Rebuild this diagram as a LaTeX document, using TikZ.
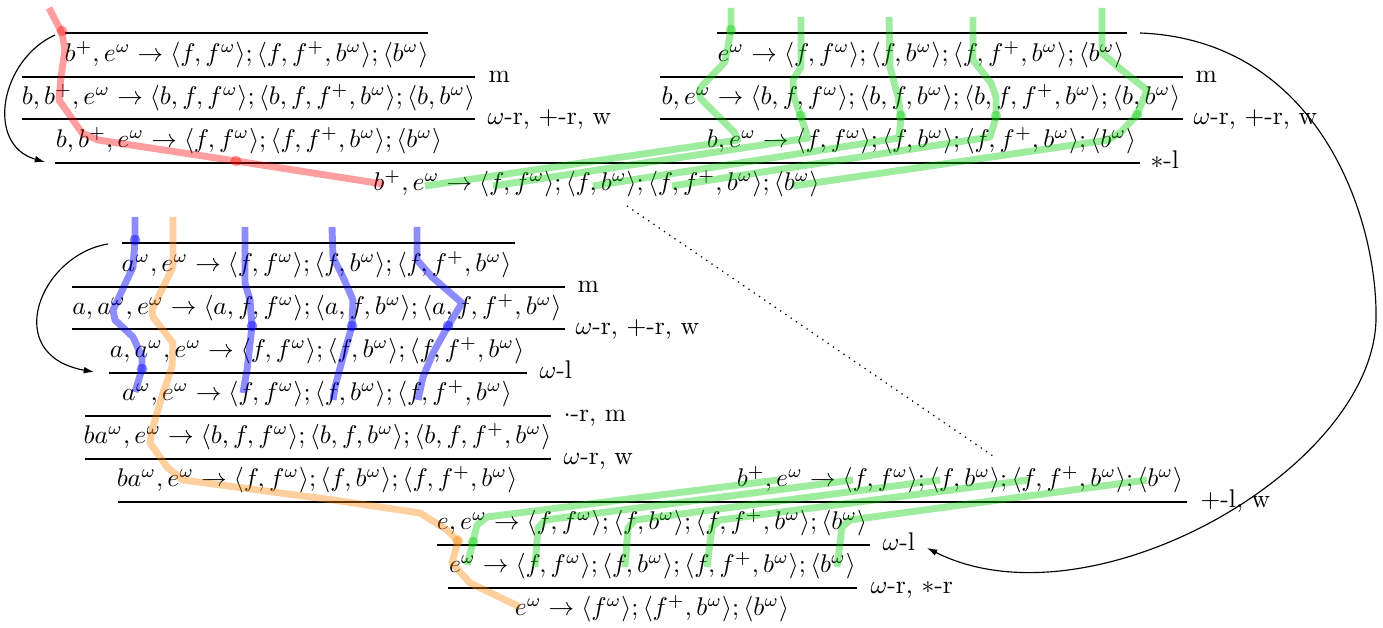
\documentclass[tikz,border=0pt]{standalone}
\usetikzlibrary{arrows.meta}
\begin{document}
\begin{tikzpicture}[x=0.391pt,y=-0.391pt,
  fml/.style={anchor=base, inner sep=0pt},
  lab/.style={anchor=base west, inner sep=0pt},
  rulel/.style={line width=0.5pt},
  thr/.style={line width=2.7pt, line join=round, opacity=0.38},
  dotr/.style={opacity=0.38},
  backarrow/.style={line width=0.45pt, -{Latex[length=4pt,width=2.6pt]}},
  redt/.style={thr, draw=red},
  grnt/.style={thr, draw=green!80!black},
  blut/.style={thr, draw=blue, opacity=0.45},
  orgt/.style={thr, draw=orange}]
\useasboundingbox (0,0) rectangle (1383,628);

% ---------- top-left block ----------
\node[fml] (t1) at (246.5,62) {$b^+, e^\omega \to \langle f, f^\omega\rangle; \langle f, f^+, b^\omega\rangle; \langle b^\omega\rangle$};
\node[fml] (t2) at (248.5,105) {$b, b^+, e^\omega \to \langle b, f, f^\omega\rangle; \langle b, f, f^+, b^\omega\rangle; \langle b, b^\omega\rangle$};
\node[fml] (t3) at (249,148) {$b, b^+, e^\omega \to \langle f, f^\omega\rangle; \langle f, f^+, b^\omega\rangle; \langle b^\omega\rangle$};
\draw[rulel] (65,33) -- (428,33);
\draw[rulel] (22,77) -- (475,77);
\draw[rulel] (22,119) -- (475,119);
\node[lab] (la2) at (488,83) {m};
\node[lab] (la3) at (487,125) {$\omega$-r, $+$-r, w};

% ---------- top-right block ----------
\node[fml] (r1) at (921,62) {$e^\omega \to \langle f, f^\omega\rangle; \langle f, b^\omega\rangle; \langle f, f^+, b^\omega\rangle; \langle b^\omega\rangle$};
\node[fml] (r2) at (921,105) {$b, e^\omega \to \langle b, f, f^\omega\rangle; \langle b, f, b^\omega\rangle; \langle b, f, f^+, b^\omega\rangle; \langle b, b^\omega\rangle$};
\node[fml] (r3) at (921.5,148) {$b, e^\omega \to \langle f, f^\omega\rangle; \langle f, b^\omega\rangle; \langle f, f^+, b^\omega\rangle; \langle b^\omega\rangle$};
\draw[rulel] (717,33) -- (1127,33);
\draw[rulel] (660,77) -- (1183,77);
\draw[rulel] (660,119) -- (1183,119);
\node[lab] (lb2) at (1195,83) {m};
\node[lab] (lb3) at (1193,125) {$\omega$-r, $+$-r, w};

% ---------- *-l ----------
\draw[rulel] (55,163) -- (1140,163);
\node[lab] (la4) at (1150,169) {$*$-l};
\node[fml] (t4) at (596.5,191) {$b^+, e^\omega \to \langle f, f^\omega\rangle; \langle f, b^\omega\rangle; \langle f, f^+, b^\omega\rangle; \langle b^\omega\rangle$};

% ---------- middle-left block ----------
\node[fml] (m1) at (316.5,272) {$a^\omega, e^\omega \to \langle f, f^\omega\rangle; \langle f, b^\omega\rangle; \langle f, f^+, b^\omega\rangle$};
\node[fml] (m2) at (317,315) {$a, a^\omega, e^\omega \to \langle a, f, f^\omega\rangle; \langle a, f, b^\omega\rangle; \langle a, f, f^+, b^\omega\rangle$};
\node[fml] (m3) at (317,358) {$a, a^\omega, e^\omega \to \langle f, f^\omega\rangle; \langle f, b^\omega\rangle; \langle f, f^+, b^\omega\rangle$};
\node[fml] (m4) at (317,401) {$a^\omega, e^\omega \to \langle f, f^\omega\rangle; \langle f, b^\omega\rangle; \langle f, f^+, b^\omega\rangle$};
\node[fml] (m5) at (317.5,444) {$ba^\omega, e^\omega \to \langle b, f, f^\omega\rangle; \langle b, f, b^\omega\rangle; \langle b, f, f^+, b^\omega\rangle$};
\node[fml] (m6) at (317,487) {$ba^\omega, e^\omega \to \langle f, f^\omega\rangle; \langle f, b^\omega\rangle; \langle f, f^+, b^\omega\rangle$};
\draw[rulel] (122,243) -- (515,243);
\draw[rulel] (72,287) -- (565,287);
\draw[rulel] (72,329) -- (565,329);
\draw[rulel] (109,373) -- (527,373);
\draw[rulel] (85,416) -- (551,416);
\draw[rulel] (85,459) -- (551,459);
\node[lab] (lc2) at (577,293) {m};
\node[lab] (lc3) at (575,335) {$\omega$-r, $+$-r, w};
\node[lab] (lc4) at (539,379) {$\omega$-l};
\node[lab] (lc5) at (563,422) {$\cdot$-r, m};
\node[lab] (lc6) at (563,465) {$\omega$-r, w};

% ---------- bottom block ----------
\node[fml] (p) at (960,487) {$b^+, e^\omega \to \langle f, f^\omega\rangle; \langle f, b^\omega\rangle; \langle f, f^+, b^\omega\rangle; \langle b^\omega\rangle$};
\draw[rulel] (118,502) -- (1187,502);
\node[lab] (ld1) at (1200,508) {$+$-l, w};
\node[fml] (e1) at (652,530) {$e, e^\omega \to \langle f, f^\omega\rangle; \langle f, b^\omega\rangle; \langle f, f^+, b^\omega\rangle; \langle b^\omega\rangle$};
\draw[rulel] (437,545) -- (870,545);
\node[lab] (ld2) at (882,551) {$\omega$-l};
\node[fml] (e2) at (652.5,573) {$e^\omega \to \langle f, f^\omega\rangle; \langle f, b^\omega\rangle; \langle f, f^+, b^\omega\rangle; \langle b^\omega\rangle$};
\draw[rulel] (448,588) -- (857,588);
\node[lab] (ld3) at (870,594) {$\omega$-r, $*$-r};
\node[fml] (e3) at (652,616) {$e^\omega \to \langle f^\omega\rangle; \langle f^+, b^\omega\rangle; \langle b^\omega\rangle$};

% ---------- back-arrows and dotted link ----------
\coordinate (a1s) at (55,35);
\coordinate (a1e) at (45,162);
\draw[backarrow] (a1s) .. controls (0,60) and (-15,145) .. (a1e);
\coordinate (a2s) at (108,244);
\coordinate (a2e) at (94,372);
\draw[backarrow] (a2s) .. controls (40,255) and (0,355) .. (a2e);
\coordinate (a3s) at (1140,33);
\coordinate (a3m) at (1376,320);
\coordinate (a3e) at (927,548);
\draw[backarrow] (a3s) .. controls (1320,40) and (1378,220) .. (a3m) .. controls (1372,470) and (1090,630) .. (a3e);
\coordinate (ds) at (627,206);
\coordinate (de) at (993,456);
\draw[dotted, line width=0.5pt] (ds) -- (de);

% ---------- threads ----------
% red
\draw[redt] (49,8) -- (62,33) -- (65,50) -- (61,77) -- (59,100) -- (82,133) -- (98,140) -- (236,161) -- (383,184);
\fill[red, dotr] (62,31) circle (2.1pt);
\fill[red, dotr] (236,161) circle (2.1pt);

% green top
\draw[grnt] (731,8) -- (731,30) -- (725,62) -- (700,88) -- (700,98) -- (734,132) -- (738,140) -- (425,186);
\draw[grnt] (801,17) -- (801,67) -- (793,80) -- (794,97) -- (801,117) -- (808,138) -- (493,186);
\draw[grnt] (889,17) -- (890,67) -- (898,97) -- (901,117) -- (899,138) -- (593,186);
\draw[grnt] (973,17) -- (973,60) -- (991,83) -- (996,97) -- (996,117) -- (990,137) -- (672,186);
\draw[grnt] (1102,8) -- (1102,53) -- (1118,67) -- (1147,90) -- (1137,115) -- (1121,132) -- (1108,140) -- (793,186);
\foreach \p in {(731,30),(801,116),(901,116),(996,116),(1137,115)}
  \fill[green!80!black, dotr] \p circle (2.1pt);

% blue
\draw[blut] (135,217) -- (135,240) -- (133,267) -- (113,310) -- (115,320) -- (133,337) -- (142,357) -- (142,369) -- (135,392);
\draw[blut] (245,227) -- (245,283) -- (250,300) -- (252,326) -- (247,370) -- (243,393);
\draw[blut] (332,227) -- (333,257) -- (343,277) -- (353,300) -- (352,326) -- (343,357) -- (335,387) -- (333,400);
\draw[blut] (417,227) -- (417,260) -- (432,277) -- (462,303) -- (448,326) -- (433,353) -- (423,377) -- (418,400);
\foreach \p in {(135,240),(142,369),(252,326),(352,326),(448,326)}
  \fill[blue, opacity=0.45] \p circle (2.1pt);

% orange
\draw[orgt] (173,217) -- (173,267) -- (152,310) -- (153,317) -- (173,343) -- (172,367) -- (163,393) -- (152,430) -- (150,443) -- (167,467) -- (183,480) -- (333,500) -- (420,513) -- (447,530) -- (458,541) -- (452,563) -- (470,583) -- (520,607);
\fill[orange, dotr] (458,541) circle (2.1pt);

% green bottom
\draw[grnt] (467,565) -- (473,542) -- (477,525) -- (487,517) -- (778,480);
\draw[grnt] (535,567) -- (538,528) -- (545,520) -- (853,480);
\draw[grnt] (625,567) -- (628,528) -- (635,520) -- (940,480);
\draw[grnt] (707,567) -- (712,527) -- (720,520) -- (1028,480);
\draw[grnt] (837,567) -- (842,527) -- (850,520) -- (1147,480);
\fill[green!80!black, dotr] (473,542) circle (2.1pt);
\end{tikzpicture}
\end{document}
